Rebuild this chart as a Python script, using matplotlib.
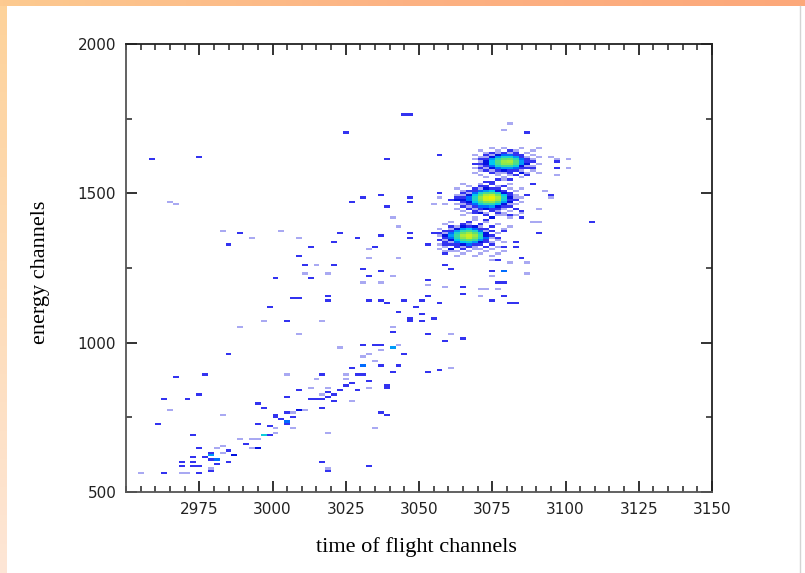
import numpy as np
import matplotlib
matplotlib.use("Agg")
import matplotlib.pyplot as plt
from matplotlib.colors import LinearSegmentedColormap, Normalize
from matplotlib.ticker import MultipleLocator

# binning of the time-of-flight / energy matrix
TOF_MIN, TOF_MAX, TOF_BIN = 2950, 3150, 2.0
E_MIN, E_MAX, E_BIN = 500, 2000, 7.5

# isolated channels holding a single count
tof_single = [3081.4, 3079.4, 3090.4, 3094.5, 3097.2, 3100.4, 3100.4, 3096.5, 3092.7,
              3094.5, 3090.4, 3089.4, 3091.3, 3083.4, 3057.4, 3055.3, 3058.5, 2965.3,
              2967.3, 3040.5, 3043.3, 2983.6, 2993.5, 3002.4, 3009.4, 3033.3, 3033.3,
              3043.3, 3015.1, 3010.6, 3018.5, 3031.6, 3036.5, 3041.3, 3053.2, 3058.3,
              3070.3, 3073.1, 3077.1, 3074.3, 3060.4, 3041.3, 2996.3, 3016.5, 2988.4,
              3008.3, 2964.5, 2982.5, 2954.2, 2968.2, 2970.5, 2978.7, 2981.5, 2983.8,
              2983.3, 2987.8, 2989.0, 2992.4, 2993.5, 2995.4, 2995.4, 2996.3, 3000.9,
              3001.5, 3008.3, 3007.1, 3006.0, 3019.7, 3016.8, 3011.1, 3013.4, 3015.4,
              3026.3, 3024.4, 3032.2, 3025.3, 3031.0, 3033.9, 3043.3, 3037.9, 3035.6,
              3035.4, 3060.4, 3018.5, 3019.4, 3022.5, 3004.1, 3070.3, 3074.8, 3080.5,
              3086.6, 3087.4, 3077.1, 3078.8, 3072.0, 3086.8, 3073.7, 3068.6, 3078.8,
              3080.0, 3059.3, 3059.5]
energy_single = [1736, 1711, 1654, 1624, 1617, 1617, 1586, 1558, 1509,
                 1483, 1452, 1405, 1402, 1452, 1487, 1461, 1461, 1472,
                 1461, 1417, 1385, 1372, 1352, 1372, 1352, 1314, 1286,
                 1286, 1258, 1228, 1228, 1203, 1203, 1223, 1194, 1183,
                 1180, 1177, 1178, 1223, 1027, 1053, 1072, 1074, 1052,
                 1025, 772, 757, 562, 565, 562, 582, 648, 654,
                 631, 620, 678, 648, 678, 678, 645, 692, 698,
                 715, 777, 765, 715, 848, 826, 770, 848, 875,
                 801, 878, 848, 897, 950, 959, 994, 973, 942,
                 717, 917, 696, 579, 986, 892, 1153, 1275, 1267,
                 1272, 1234, 1297, 1546, 1522, 1558, 1427, 1413, 1424,
                 1386, 1308, 1297]

# isolated channels holding two counts
tof_double = [3044.7, 3046.4, 3086.6, 3024.3, 2959.6, 2974.5, 3039.3, 3057.4, 3097.2,
              3097.2, 3089.4, 3088.5, 3086.8, 3094.5, 3108.4, 3090.4, 3084.3, 3084.3,
              3031.6, 3037.3, 3047.5, 3027.4, 3039.3, 3046.4, 3056.1, 3063.5, 3061.5,
              2989.3, 2985.5, 3022.5, 3021.4, 3012.8, 3028.5, 3036.5, 3034.4, 3046.4,
              3046.4, 3052.4, 3055.3, 3009.4, 3010.6, 3020.2, 3031.4, 3037.3, 3033.3,
              3013.4, 3000.3, 3053.2, 3058.3, 3060.4, 3065.2, 3065.2, 3076.5, 3079.4,
              3074.5, 3078.2, 3081.1, 3082.8, 3074.3, 3078.2, 3079.4, 3065.5, 3059.3,
              3053.2, 3054.9, 3057.4, 3051.3, 3053.2, 3049.5, 3050.4, 3050.4, 3046.4,
              3046.4, 3045.8, 3043.3, 3041.6, 3037.3, 3038.4, 3032.4, 3019.7, 3018.5,
              3006.3, 3009.4, 2998.4, 3004.3, 2984.4, 2967.3, 2976.4, 2963.3, 2970.5,
              2975.4, 2960.5, 2973.4, 2963.6, 2969.4, 2969.4, 2974.5, 2974.5, 2973.4,
              2973.4, 2973.4, 2975.9, 2978.5, 2976.4, 2978.7, 2978.4, 2980.1, 2981.5,
              2980.4, 2984.4, 2985.5, 2986.7, 2991.2, 2994.1, 2997.5, 2999.2, 2995.2,
              2998.0, 3000.3, 3000.3, 3002.6, 3004.0, 3004.3, 3005.8, 3007.1, 3005.4,
              3009.4, 2995.4, 2996.6, 3005.4, 3008.3, 3012.3, 3015.1, 3016.8, 3018.5,
              3020.2, 3018.5, 3016.2, 3016.5, 3021.0, 3023.6, 3024.2, 3027.4, 3028.5,
              3032.4, 3028.2, 3030.5, 3026.5, 3031.6, 3035.6, 3036.5, 3036.5, 3042.4,
              3044.5, 3041.3, 3038.4, 3038.4, 3036.5, 3038.7, 3053.2, 3056.3, 3016.5,
              3019.4, 3033.3, 3076.5, 3084.5, 3079.4, 3082.2, 3083.4, 3073.7, 3075.4,
              3077.1, 3081.1, 3082.8, 3085.1, 3069.7, 3071.8, 3076.5, 3075.4, 3072.0,
              3081.1, 3078.8, 3058.3, 3060.6]
energy_double = [1766, 1764, 1700, 1700, 1617, 1624, 1617, 1628, 1604,
                 1584, 1584, 1529, 1494, 1495, 1405, 1366, 1416, 1438,
                 1489, 1494, 1489, 1468, 1454, 1468, 1502, 1482, 1482,
                 1366, 1325, 1369, 1338, 1319, 1349, 1362, 1319, 1366,
                 1352, 1325, 1369, 1291, 1264, 1261, 1247, 1238, 1225,
                 1216, 1214, 1208, 1264, 1244, 1183, 1166, 1203, 1203,
                 1139, 1156, 1131, 1131, 1241, 1241, 1238, 1014, 1009,
                 1030, 1078, 1134, 1144, 1155, 1119, 1097, 1070, 1083,
                 1070, 1139, 1105, 1033, 1138, 1134, 1144, 1156, 1139,
                 1150, 1150, 1122, 1075, 958, 885, 890, 813, 808,
                 829, 729, 690, 567, 598, 588, 565, 643, 617,
                 598, 587, 588, 571, 614, 612, 634, 612, 612,
                 593, 598, 639, 620, 659, 645, 689, 689, 729,
                 720, 748, 757, 742, 731, 739, 739, 751, 767,
                 770, 796, 778, 822, 840, 809, 809, 809, 820,
                 826, 837, 781, 890, 803, 842, 859, 864, 844,
                 872, 897, 894, 916, 994, 994, 992, 923, 920,
                 959, 898, 859, 850, 768, 759, 898, 909, 600,
                 568, 585, 1275, 1286, 1319, 1319, 1336, 1535, 1538,
                 1549, 1546, 1558, 1569, 1436, 1430, 1436, 1419, 1411,
                 1424, 1374, 1325, 1314]

# a few brighter isolated channels along the diagonal band
tof_bright = [2979.3, 3030.2, 3040.1, 2996.3]
energy_bright = [623, 925, 986, 692]
count_bright = [5, 4, 5, 4]

# the three peaks: counts per channel, rows from high to low energy
peak_tof_start = [3056, 3062, 3068]
peak_energy_top = [1407.5, 1535.0, 1655.0]

peak_low = [
    [0, 0, 1, 0, 0, 2, 0, 0, 1, 0, 0, 0],
    [0, 1, 0, 0, 2, 1, 0, 2, 0, 0, 1, 0],
    [0, 0, 2, 1, 3, 2, 3, 1, 0, 2, 0, 0],
    [1, 0, 1, 3, 5, 6, 4, 2, 2, 0, 0, 1],
    [0, 2, 2, 5, 9, 11, 8, 4, 1, 2, 0, 0],
    [2, 1, 4, 8, 14, 17, 13, 7, 3, 0, 1, 0],
    [1, 3, 5, 10, 18, 22, 17, 9, 3, 2, 0, 0],
    [0, 2, 4, 9, 16, 20, 15, 8, 4, 1, 2, 0],
    [2, 1, 3, 6, 11, 13, 10, 5, 2, 0, 1, 0],
    [0, 2, 1, 4, 6, 7, 5, 3, 2, 1, 0, 1],
    [1, 0, 2, 2, 3, 4, 2, 2, 0, 2, 0, 0],
    [0, 1, 0, 2, 1, 2, 1, 0, 2, 0, 1, 0],
    [1, 0, 1, 0, 2, 0, 1, 1, 0, 1, 0, 0],
    [0, 0, 1, 1, 0, 1, 0, 0, 1, 0, 0, 1],
    [0, 1, 0, 0, 1, 0, 0, 1, 0, 0, 0, 0],
    [0, 0, 0, 1, 0, 0, 1, 0, 0, 1, 0, 0],
]
peak_mid = [
    [0, 1, 0, 0, 1, 0, 2, 0, 0, 1, 0, 0],
    [0, 0, 1, 0, 2, 1, 0, 1, 2, 0, 0, 0],
    [1, 0, 0, 2, 1, 3, 2, 2, 0, 1, 0, 1],
    [0, 1, 2, 2, 4, 5, 6, 3, 2, 0, 1, 0],
    [0, 2, 1, 4, 8, 11, 12, 8, 3, 2, 0, 0],
    [1, 1, 3, 6, 12, 18, 20, 14, 6, 2, 1, 0],
    [2, 2, 4, 8, 16, 23, 26, 18, 8, 3, 1, 1],
    [1, 3, 4, 8, 15, 22, 24, 17, 7, 2, 2, 0],
    [0, 2, 3, 6, 11, 15, 16, 11, 5, 3, 0, 1],
    [1, 1, 2, 4, 7, 9, 9, 6, 3, 1, 1, 0],
    [0, 2, 1, 2, 4, 4, 5, 3, 2, 2, 0, 0],
    [1, 0, 2, 1, 2, 3, 2, 2, 1, 0, 1, 0],
    [0, 1, 0, 2, 1, 0, 2, 1, 0, 1, 0, 0],
    [0, 0, 1, 0, 1, 1, 0, 0, 1, 0, 0, 1],
    [0, 1, 0, 0, 0, 1, 0, 1, 0, 0, 1, 0],
    [0, 0, 0, 1, 0, 0, 1, 0, 0, 1, 0, 0],
]
peak_high = [
    [0, 0, 0, 1, 0, 1, 0, 0, 1, 0, 0, 0],
    [0, 1, 0, 0, 1, 0, 2, 1, 0, 0, 1, 0],
    [0, 0, 1, 2, 1, 2, 1, 2, 0, 1, 0, 0],
    [1, 0, 2, 1, 3, 4, 4, 2, 2, 0, 1, 0],
    [0, 1, 1, 3, 5, 8, 8, 5, 2, 1, 0, 1],
    [1, 2, 2, 5, 9, 13, 14, 9, 4, 2, 1, 0],
    [0, 1, 3, 6, 12, 17, 18, 12, 5, 2, 2, 0],
    [2, 2, 3, 6, 11, 16, 16, 11, 5, 3, 0, 1],
    [0, 1, 2, 4, 8, 10, 10, 7, 3, 1, 1, 0],
    [1, 2, 1, 3, 4, 5, 5, 4, 2, 2, 0, 0],
    [0, 1, 2, 1, 2, 3, 2, 2, 1, 0, 1, 0],
    [1, 0, 0, 2, 1, 1, 2, 0, 1, 1, 0, 1],
    [0, 1, 0, 0, 1, 0, 1, 0, 0, 1, 0, 0],
    [0, 0, 1, 0, 0, 1, 0, 0, 1, 0, 0, 0],
]


def fill_hits(hist, tof, energy, counts):
    for x, y, n in zip(tof, energy, counts):
        i = int((x - TOF_MIN) // TOF_BIN)
        j = int((y - E_MIN) // E_BIN)
        hist[j, i] += n


def fill_peak(hist, tof0, e_top, grid):
    i0 = int(round((tof0 - TOF_MIN) / TOF_BIN))
    j_top = int(round((e_top - E_MIN) / E_BIN)) - 1
    for r, row in enumerate(grid):
        for c, n in enumerate(row):
            hist[j_top - r, i0 + c] += n


tof_edges = np.arange(TOF_MIN, TOF_MAX + TOF_BIN / 2, TOF_BIN)
e_edges = np.arange(E_MIN, E_MAX + E_BIN / 2, E_BIN)
hist = np.zeros((len(e_edges) - 1, len(tof_edges) - 1))

fill_hits(hist, tof_single, energy_single, [1] * len(tof_single))
fill_hits(hist, tof_double, energy_double, [2] * len(tof_double))
fill_hits(hist, tof_bright, energy_bright, count_bright)
for t0, e0, grid in zip(peak_tof_start, peak_energy_top, [peak_low, peak_mid, peak_high]):
    fill_peak(hist, t0, e0, grid)

# colour scale: 1 count pale violet, 2-3 blue, then cyan, green, yellow
VMAX = 27
cmap = LinearSegmentedColormap.from_list("tof_e", [
    (0.0, "#a9a9f2"),
    (1 / (VMAX - 1), "#2828f0"),
    (2 / (VMAX - 1), "#0010e0"),
    (3 / (VMAX - 1), "#0070ff"),
    (5 / (VMAX - 1), "#00c8f0"),
    (8 / (VMAX - 1), "#30d8b0"),
    (12 / (VMAX - 1), "#60e070"),
    (18 / (VMAX - 1), "#b8ee30"),
    (1.0, "#f0f000"),
])

fig = plt.figure(figsize=(8.05, 5.73), dpi=100)

# slide frame: warm strip on top and along the left edge
top = fig.add_axes([0, 1 - 6 / 573, 1, 6 / 573])
top.imshow(np.linspace(0, 1, 256)[None, :], aspect="auto",
           cmap=LinearSegmentedColormap.from_list("top", ["#fdca90", "#fcb283", "#fda87a"]))
top.set_axis_off()
side = fig.add_axes([0, 0, 6 / 805, 1 - 6 / 573])
side.imshow(np.linspace(0, 1, 256)[:, None], aspect="auto",
            cmap=LinearSegmentedColormap.from_list("side", ["#fdd29a", "#fde6d6"]))
side.set_axis_off()
fig.add_artist(plt.Line2D([800 / 805, 800 / 805], [0, 1 - 6 / 573],
                          transform=fig.transFigure, color="#d4d4d4", lw=1))

ax = fig.add_axes([126 / 805, 1 - 492 / 573, 586 / 805, 448 / 573])
ax.pcolormesh(tof_edges, e_edges, np.ma.masked_equal(hist, 0),
              cmap=cmap, norm=Normalize(vmin=1, vmax=VMAX), shading="flat")

ax.set_xlim(TOF_MIN, TOF_MAX)
ax.set_ylim(E_MIN, E_MAX)
ax.set_xticks([2975, 3000, 3025, 3050, 3075, 3100, 3125, 3150])
ax.xaxis.set_minor_locator(MultipleLocator(5))
ax.set_yticks([500, 1000, 1500, 2000])
ax.yaxis.set_minor_locator(MultipleLocator(250))
ax.tick_params(which="both", direction="in", top=True, right=True,
               labelsize=11, colors="#222222")
ax.tick_params(which="major", length=8, width=1.3, pad=7)
ax.tick_params(which="minor", length=4, width=1.1)
for side_name, spine in ax.spines.items():
    spine.set_linewidth(1.3)
    spine.set_color("#555555" if side_name in ("left", "bottom") else "#222222")

serif = {"family": ["Liberation Serif", "DejaVu Serif"], "size": 16}
ax.set_xlabel("time of flight channels", fontdict=serif)
ax.set_ylabel("energy channels", fontdict=serif)
ax.xaxis.set_label_coords(0.495, -0.1)
ax.yaxis.set_label_coords(-0.13, 0.49)

fig.savefig("out.png", dpi=100)
